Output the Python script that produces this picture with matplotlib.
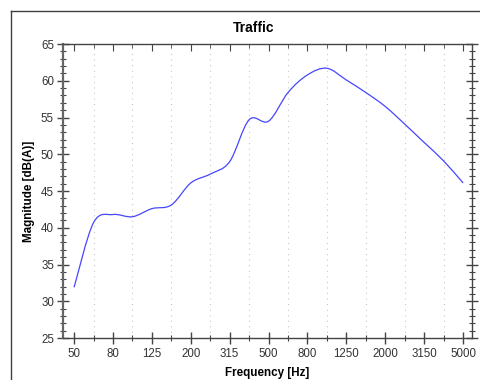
import numpy as np
import matplotlib
matplotlib.use('Agg')
import matplotlib.pyplot as plt
from matplotlib.path import Path
from matplotlib.patches import PathPatch
from matplotlib.lines import Line2D
from matplotlib.ticker import MultipleLocator

plt.rcParams['font.family'] = ['Liberation Sans', 'DejaVu Sans']

# third-octave band centres (Hz) and measured level
bands = ['50', '63', '80', '100', '125', '160', '200', '250', '315', '400', '500',
         '630', '800', '1000', '1250', '1600', '2000', '2500', '3150', '4000', '5000']
level = [31.9, 40.7, 41.8, 41.5, 42.6, 43.1, 46.1, 47.3, 49.0, 54.7, 54.5,
         58.4, 60.8, 61.7, 60.1, 58.4, 56.5, 54.1, 51.6, 49.1, 46.1]

title = 'Traffic'
xlab = 'Frequency [Hz]'
ylab = 'Magnitude [dB(A)]'


def smooth_path(x, y):
    # catmull-rom segments drawn as cubic bezier curves
    pts = np.column_stack([x, y])
    ext = np.vstack([pts[0], pts, pts[-1]])
    verts = [pts[0]]
    codes = [Path.MOVETO]
    for i in range(len(pts) - 1):
        p0, p1, p2, p3 = ext[i], ext[i + 1], ext[i + 2], ext[i + 3]
        c1 = p1 + (p2 - p0) / 6.0
        c2 = p2 - (p3 - p1) / 6.0
        verts += [c1, c2, p2]
        codes += [Path.CURVE4] * 3
    return Path(verts, codes)


def main():
    fig = plt.figure(figsize=(4.81, 3.80), dpi=100)
    ax = fig.add_axes([0.131, 0.1105, 0.8503, 0.7737])

    idx = np.arange(len(bands))
    patch = PathPatch(smooth_path(idx, level), fill=False, edgecolor='#4646ff', lw=0.9)
    ax.add_patch(patch)

    ax.set_xlim(-0.57, 20.46)
    ax.set_ylim(25, 65)

    ax.set_xticks(idx[::2])
    ax.set_xticklabels(bands[::2])
    ax.set_xticks(idx[1::2], minor=True)
    ax.yaxis.set_major_locator(MultipleLocator(5))
    ax.yaxis.set_minor_locator(MultipleLocator(1))

    for g in idx[1::2]:
        ax.axvline(g, color='#c8c8c8', lw=0.8, ls=(0, (1, 4)), zorder=0)

    ax.tick_params(axis='both', which='major', direction='inout', length=9, width=1,
                   color='#444444', labelsize=8.3, labelcolor='#333333')
    ax.tick_params(axis='both', which='minor', direction='inout', length=5, width=0.8,
                   color='#444444')
    ax.tick_params(axis='y', right=True, which='both')
    ax.tick_params(axis='x', pad=3)
    ax.tick_params(axis='y', pad=2)

    top = ax.secondary_xaxis('top')
    top.set_xticks(idx[::2])
    top.set_xticks(idx[1::2], minor=True)
    top.tick_params(which='major', direction='in', length=5, color='#444444', labeltop=False)
    top.tick_params(which='minor', direction='in', length=3, color='#444444')
    top.spines['top'].set_visible(False)

    for s in ax.spines.values():
        s.set_color('#444444')
        s.set_linewidth(1.0)
    ax.spines['left'].set_color('#666666')
    ax.spines['left'].set_linewidth(1.6)

    ax.set_xlabel(xlab, fontsize=8.4, fontweight='bold', labelpad=4.5)
    ax.set_ylabel(ylab, fontsize=8.4, fontweight='bold', labelpad=4)
    fig.text(254 / 481, 1 - 28 / 380, title, fontsize=10, fontweight='bold',
             ha='center', va='center')

    # outer frame
    fig.add_artist(Line2D([11 / 481, 11 / 481], [0, 1 - 11 / 380], color='#404040', lw=1.0))
    fig.add_artist(Line2D([11 / 481, 1], [1 - 11 / 380, 1 - 11 / 380], color='#404040', lw=1.0))

    fig.savefig('out.png', dpi=100)


if __name__ == '__main__':
    main()
